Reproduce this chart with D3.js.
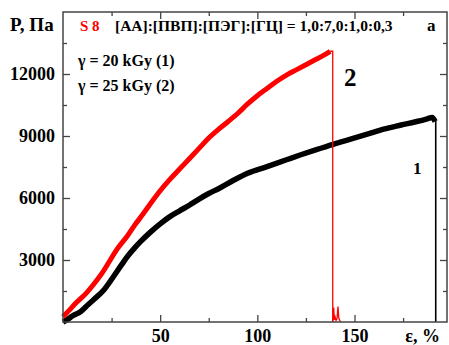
<!DOCTYPE html>
<html>
<head>
<meta charset="utf-8">
<script src="https://cdn.jsdelivr.net/npm/d3@7"></script>
<style>
  html, body { margin: 0; padding: 0; background: #fff; }
  svg { display: block; }
  svg text { font-family: "Liberation Serif", "Times New Roman", Times, "DejaVu Serif", "Noto Serif", serif !important; font-weight: bold; }
</style>
</head>
<body>
<div id="chart"></div>
<script>
// strain ε, % and stress P, Pa
const strain1 = [0, 2, 5, 9, 13, 16, 21, 26, 30, 33, 37, 40, 45, 50, 55, 60, 65, 70, 75, 80, 88, 95, 105, 115, 122, 130, 139, 148, 157, 165, 174, 182, 187, 190, 191.5];
const stress1 = [0, 100, 300, 500, 850, 1100, 1550, 2200, 2750, 3150, 3600, 3900, 4350, 4750, 5100, 5380, 5650, 5950, 6220, 6450, 6870, 7200, 7520, 7850, 8080, 8330, 8600, 8850, 9100, 9330, 9530, 9700, 9820, 9900, 9700];
const break1 = [191.8, 9700];

const strain2 = [0, 3, 7, 12, 16, 20, 24, 28, 33, 37, 41, 46, 50, 55, 60, 65, 70, 75, 80, 85, 90, 95, 100, 105, 110, 115, 120, 125, 130, 134, 137.5];
const stress2 = [250, 550, 950, 1400, 1850, 2350, 2950, 3550, 4150, 4700, 5200, 5850, 6350, 6900, 7400, 7900, 8400, 8900, 9320, 9700, 10100, 10550, 10950, 11300, 11650, 11950, 12200, 12450, 12700, 12900, 13100];
const break2 = [138.8, 13100];
// small residual spikes after rupture of sample 2
const tailStrain = [138.8, 139.3, 139.6, 140.0, 140.5, 141.0, 141.5, 141.9, 142.4, 143.0];
const tailStress = [0, 700, 100, 250, 80, 150, 750, 200, 80, 0];

const xMajor = [50, 100, 150];
const xMinor = [25, 75, 125, 175];
const yMajor = [3000, 6000, 9000, 12000];
const yMinor = [1500, 4500, 7500, 10500, 13500];

const W = 449, H = 345;
const pL = 63, pR = 447, pT = 12, pB = 322;

const svg = d3.select('#chart').append('svg')
  .attr('width', W).attr('height', H);

const x = d3.scaleLinear().domain([0, 197.6]).range([pL, pR]);
const y = d3.scaleLinear().domain([0, 15000]).range([pB, pT]);

const line = d3.line().curve(d3.curveMonotoneX).x(d => x(d[0])).y(d => y(d[1]));
const straight = d3.line().x(d => x(d[0])).y(d => y(d[1]));

// curves
const pts1 = strain1.map((s, i) => [s, stress1[i]]);
const pts2 = strain2.map((s, i) => [s, stress2[i]]);

svg.append('path').datum(pts1)
  .attr('d', line).attr('fill', 'none')
  .attr('stroke', '#000').attr('stroke-width', 5.5)
  .attr('stroke-linejoin', 'round');
svg.append('path').datum([pts1[pts1.length - 1], break1, [break1[0], 0]])
  .attr('d', straight).attr('fill', 'none')
  .attr('stroke', '#000').attr('stroke-width', 1.6);

svg.append('path').datum(pts2)
  .attr('d', line).attr('fill', 'none')
  .attr('stroke', '#ff0000').attr('stroke-width', 5)
  .attr('stroke-linejoin', 'round');
svg.append('path').datum([pts2[pts2.length - 1], break2, [break2[0], 0]])
  .attr('d', straight).attr('fill', 'none')
  .attr('stroke', '#ff0000').attr('stroke-width', 1.3);
svg.append('path').datum(tailStrain.map((s, i) => [s, tailStress[i]]))
  .attr('d', straight).attr('fill', 'none')
  .attr('stroke', '#ff0000').attr('stroke-width', 1.3);

// axes (ticks pointing inward on all four sides)
const axisColor = '#444';
function styleAxis(g) {
  g.select('.domain').remove();
  g.selectAll('.tick line').attr('stroke', axisColor).attr('stroke-width', 1.3);
}

svg.append('g').attr('transform', `translate(0,${pB})`)
  .call(d3.axisBottom(x).tickValues(xMajor).tickSize(-7).tickPadding(7).tickFormat(d3.format('d')))
  .call(styleAxis)
  .call(g => g.selectAll('text').attr('fill', '#000').attr('font-size', 18));
svg.append('g').attr('transform', `translate(0,${pB})`)
  .call(d3.axisBottom(x).tickValues(xMinor).tickSize(-4).tickFormat(''))
  .call(styleAxis);

svg.append('g').attr('transform', `translate(0,${pT})`)
  .call(d3.axisTop(x).tickValues(xMajor).tickSize(-7).tickFormat(''))
  .call(styleAxis);
svg.append('g').attr('transform', `translate(0,${pT})`)
  .call(d3.axisTop(x).tickValues(xMinor).tickSize(-4).tickFormat(''))
  .call(styleAxis);

svg.append('g').attr('transform', `translate(${pL},0)`)
  .call(d3.axisLeft(y).tickValues(yMajor).tickSize(-7).tickPadding(8).tickFormat(d3.format('d')))
  .call(styleAxis)
  .call(g => g.selectAll('text').attr('fill', '#000').attr('font-size', 18));
svg.append('g').attr('transform', `translate(${pL},0)`)
  .call(d3.axisLeft(y).tickValues(yMinor).tickSize(-4).tickFormat(''))
  .call(styleAxis);

svg.append('g').attr('transform', `translate(${pR},0)`)
  .call(d3.axisRight(y).tickValues(yMajor).tickSize(-7).tickFormat(''))
  .call(styleAxis);
svg.append('g').attr('transform', `translate(${pR},0)`)
  .call(d3.axisRight(y).tickValues(yMinor).tickSize(-4).tickFormat(''))
  .call(styleAxis);

// frame
svg.append('rect')
  .attr('x', pL).attr('y', pT)
  .attr('width', pR - pL).attr('height', pB - pT)
  .attr('fill', 'none').attr('stroke', axisColor).attr('stroke-width', 1.5);

// axis titles
svg.append('text').attr('x', 10).attr('y', 31)
  .attr('font-size', 19).text('P, Па');
svg.append('text').attr('x', 440).attr('y', 342)
  .attr('text-anchor', 'end').attr('font-size', 18).text('ε, %');

// annotations
svg.append('text').attr('x', 80).attr('y', 31)
  .attr('font-size', 15).attr('fill', '#ff0000').text('S 8');
svg.append('text').attr('x', 115).attr('y', 31)
  .attr('font-size', 15.5).text('[АА]:[ПВП]:[ПЭГ]:[ГЦ] = 1,0:7,0:1,0:0,3');
svg.append('text').attr('x', 427).attr('y', 31)
  .attr('font-size', 17).text('a');

svg.append('text').attr('x', 78).attr('y', 66)
  .attr('font-size', 16).text('γ = 20 kGy (1)');
svg.append('text').attr('x', 78).attr('y', 91)
  .attr('font-size', 16).text('γ = 25 kGy (2)');

svg.append('text').attr('x', 344).attr('y', 86)
  .attr('font-size', 25).text('2');
svg.append('text').attr('x', 413).attr('y', 174)
  .attr('font-size', 17).text('1');
</script>
</body>
</html>
